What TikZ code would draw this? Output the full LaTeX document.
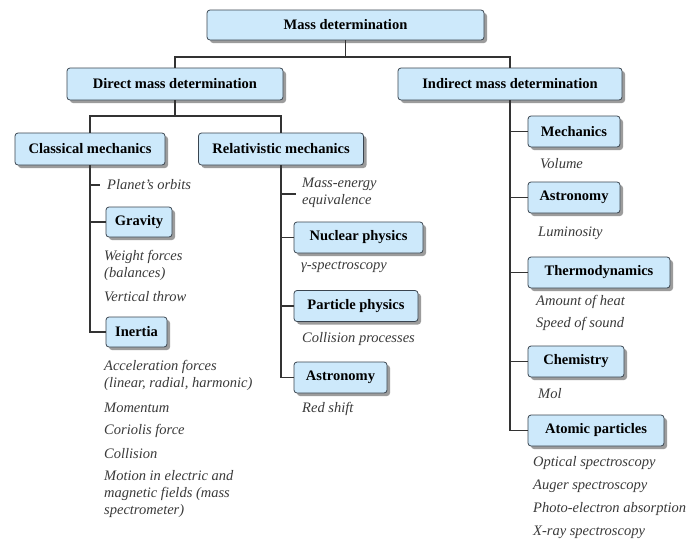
\documentclass[tikz,border=0pt]{standalone}
\usepackage{fontspec}
\setmainfont{Liberation Serif}
\usetikzlibrary{shadows}
\definecolor{boxblue}{HTML}{CDE9FB}
\definecolor{boxedge}{HTML}{3A4550}
\definecolor{linecol}{HTML}{333333}
\definecolor{notecol}{HTML}{3A3A3A}
\tikzset{
  box/.style={draw=boxedge, line width=0.8pt, fill=boxblue, rounded corners=3pt,
    drop shadow={shadow xshift=3pt, shadow yshift=-3pt, fill=black!55, opacity=0.7},
    font=\fontsize{14.5}{17}\selectfont\bfseries, text=black, inner sep=0pt},
  note/.style={font=\fontsize{14.5}{17}\selectfont\itshape, text=notecol, inner sep=0pt,
    anchor=west, align=left},
  conn/.style={draw=linecol, line width=1.4pt}
}
\begin{document}
\begin{tikzpicture}[x=1pt,y=-1pt]
\useasboundingbox (0,0) rectangle (688,541);
\fill[white] (0,0) rectangle (688,541);
% boxes
\node[box, minimum width=277, minimum height=30] (mass) at (345.5,25) {Mass determination};
\node[box, minimum width=216, minimum height=32] (direct) at (175,84) {Direct mass determination};
\node[box, minimum width=224, minimum height=32] (indirect) at (510,84) {Indirect mass determination};
\node[box, minimum width=150, minimum height=32] (classical) at (90,149) {Classical mechanics};
\node[box, minimum width=165, minimum height=32] (relativistic) at (281,149) {Relativistic mechanics};
\node[box, minimum width=66, minimum height=30] (gravity) at (139,222) {Gravity};
\node[box, minimum width=61, minimum height=30] (inertia) at (136.5,332) {Inertia};
\node[box, minimum width=129, minimum height=31] (nuclear) at (358.5,237.5) {Nuclear physics};
\node[box, minimum width=124, minimum height=31] (particle) at (356,306) {Particle physics};
\node[box, minimum width=93, minimum height=31] (astroA) at (340.5,377.5) {Astronomy};
\node[box, minimum width=92, minimum height=31] (mech) at (574,131.5) {Mechanics};
\node[box, minimum width=92, minimum height=31] (astroB) at (574,197.5) {Astronomy};
\node[box, minimum width=142, minimum height=31] (thermo) at (599,272.5) {Thermodynamics};
\node[box, minimum width=96, minimum height=31] (chem) at (576,361.5) {Chemistry};
\node[box, minimum width=136, minimum height=31] (atomic) at (596,430.5) {Atomic particles};
% notes
\node[note] (orbits) at (107,185) {Planet’s orbits};
\node[note] (weight) at (104,265.5) {Weight forces\\(balances)};
\node[note] (vthrow) at (104,297) {Vertical throw};
\node[note] (accel) at (104,375.5) {Acceleration forces\\(linear, radial, harmonic)};
\node[note] (momentum) at (104,408) {Momentum};
\node[note] (coriolis) at (104,431) {Coriolis force};
\node[note] (collision) at (104,454) {Collision};
\node[note] (motion) at (104,494) {Motion in electric and\\magnetic fields (mass\\spectrometer)};
\node[note] (massenergy) at (302,192.5) {Mass-energy\\equivalence};
\node[note] (gamma) at (301,267) {γ-spectroscopy};
\node[note] (collproc) at (302,339) {Collision processes};
\node[note] (redshift) at (302,409) {Red shift};
\node[note] (volume) at (540,164) {Volume};
\node[note] (lum) at (538,233) {Luminosity};
\node[note] (heat) at (536,302) {Amount of heat};
\node[note] (sound) at (536,324) {Speed of sound};
\node[note] (mol) at (538,394) {Mol};
\node[note] (optical) at (533,463) {Optical spectroscopy};
\node[note] (auger) at (533,486) {Auger spectroscopy};
\node[note] (photo) at (533,509) {Photo-electron absorption};
\node[note] (xray) at (533,532) {X-ray spectroscopy};
% connectors
\coordinate (j1) at (345.5,57);
\coordinate (j2) at (175,116);
\draw[conn] (mass.south) -- (j1);
\draw[conn] (direct.north) |- (j1) -| (indirect.north);
\draw[conn] (direct.south) -- (j2);
\draw[conn] (classical.north) |- (j2) -| (relativistic.north);
% classical trunk
\coordinate (t1) at (100,185);
\draw[conn] (classical.south) |- (inertia.west);
\draw[conn] (classical.south |- gravity.west) -- (gravity.west);
\draw[conn] (classical.south |- t1) -- (t1);
% relativistic trunk
\coordinate (t2) at (296,194);
\draw[conn] (relativistic.south) |- (astroA.west);
\draw[conn] (relativistic.south |- t2) -- (t2);
\draw[conn] (relativistic.south |- nuclear.west) -- (nuclear.west);
\draw[conn] (relativistic.south |- particle.west) -- (particle.west);
% indirect trunk
\draw[conn] (indirect.south) |- (atomic.west);
\draw[conn] (indirect.south |- mech.west) -- (mech.west);
\draw[conn] (indirect.south |- astroB.west) -- (astroB.west);
\draw[conn] (indirect.south |- thermo.west) -- (thermo.west);
\draw[conn] (indirect.south |- chem.west) -- (chem.west);
\end{tikzpicture}
\end{document}
